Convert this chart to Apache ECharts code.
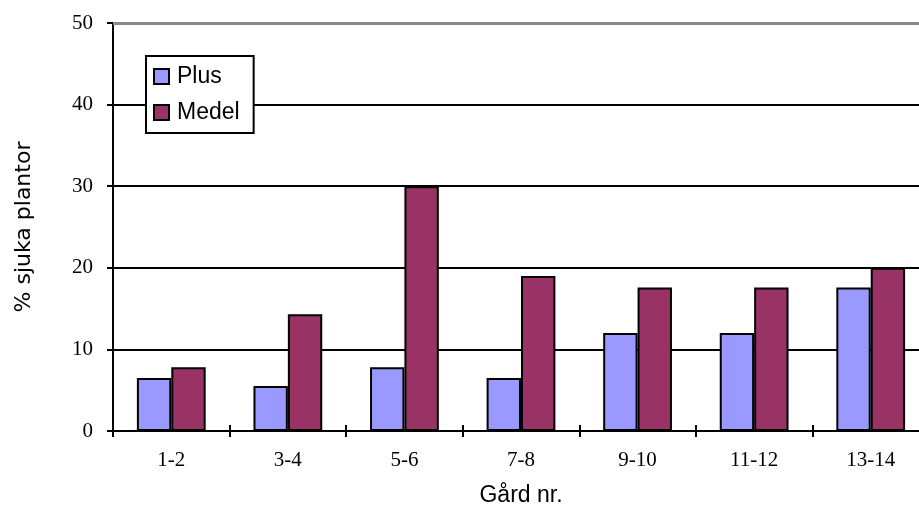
<!DOCTYPE html>
<html>
<head>
<meta charset="utf-8">
<script src="https://cdn.jsdelivr.net/npm/echarts@6/dist/echarts.min.js"></script>
<style>
  html, body { margin: 0; padding: 0; background: #fff; }
  #chart { width: 919px; height: 510px; }
</style>
</head>
<body>
<div id="chart"></div>
<script>
// Farm pairs and share of diseased plants (%)
const categories = ['1-2', '3-4', '5-6', '7-8', '9-10', '11-12', '13-14'];
const plusValues = [6.5, 5.5, 7.8, 6.5, 12, 12, 17.6];
const medelValues = [7.8, 14.3, 30, 19, 17.6, 17.6, 20];
const yTicks = [0, 10, 20, 30, 40, 50];

const serifFont = '"Liberation Serif", "Times New Roman", serif';
const sansFont = '"Liberation Sans", Arial, sans-serif';

const chart = echarts.init(document.getElementById('chart'), null, { renderer: 'canvas' });

const barBorder = { borderColor: '#000', borderWidth: 2 };

chart.setOption({
  animation: false,
  backgroundColor: '#fff',
  grid: { left: 113, top: 23, width: 816, height: 408, containLabel: false, outerBoundsMode: 'none' },
  legend: {
    orient: 'vertical',
    left: 146,
    top: 56,
    width: 107,
    padding: [9, 14, 9, 7],
    itemGap: 13,
    itemWidth: 15,
    itemHeight: 15,
    icon: 'rect',
    backgroundColor: '#fff',
    borderColor: '#000',
    borderWidth: 2,
    textStyle: { fontFamily: sansFont, fontSize: 23, color: '#000', padding: [0, 0, 0, 3] },
    data: ['Plus', 'Medel']
  },
  xAxis: [{
    type: 'category',
    data: categories,
    name: 'Gård nr.',
    nameLocation: 'middle',
    nameGap: 53,
    nameTextStyle: { fontFamily: sansFont, fontSize: 23, color: '#000' },
    axisLine: { lineStyle: { color: '#000', width: 2 } },
    axisTick: { show: true, length: 6, lineStyle: { color: '#000', width: 2 } },
    axisLabel: { fontFamily: serifFont, fontSize: 21, color: '#000', margin: 19 },
    splitLine: { show: false }
  }, {
    // inner half of the category ticks, so they cross the axis line
    type: 'category',
    data: categories,
    position: 'bottom',
    axisLine: { show: false },
    axisTick: { show: true, inside: true, length: 6, lineStyle: { color: '#000', width: 2 } },
    axisLabel: { show: false },
    splitLine: { show: false }
  }],
  yAxis: {
    type: 'value',
    min: yTicks[0],
    max: yTicks[yTicks.length - 1],
    interval: yTicks[1] - yTicks[0],
    name: '% sjuka plantor',
    nameLocation: 'middle',
    nameGap: 78,
    nameRotate: 90,
    nameTextStyle: { fontFamily: '"DejaVu Sans", sans-serif', fontSize: 22, color: '#000' },
    axisLine: { show: true, lineStyle: { color: '#000', width: 2 } },
    axisTick: { show: true, length: 6, lineStyle: { color: '#000', width: 2 } },
    axisLabel: { fontFamily: serifFont, fontSize: 21, color: '#000', margin: 20 },
    splitLine: { show: true, showMaxLine: false, lineStyle: { color: '#000', width: 2 } }
  },
  series: [{
    name: 'Plus',
    type: 'bar',
    data: plusValues,
    barGap: '0%',
    barCategoryGap: '41%',
    itemStyle: Object.assign({ color: '#9999FF' }, barBorder),
    markLine: {
      silent: true,
      symbol: 'none',
      label: { show: false },
      lineStyle: { color: '#888', width: 3, type: 'solid' },
      data: [{ yAxis: yTicks[yTicks.length - 1] }]
    }
  }, {
    name: 'Medel',
    type: 'bar',
    data: medelValues,
    barGap: '0%',
    barCategoryGap: '41%',
    itemStyle: Object.assign({ color: '#993366' }, barBorder)
  }]
});
</script>
</body>
</html>
